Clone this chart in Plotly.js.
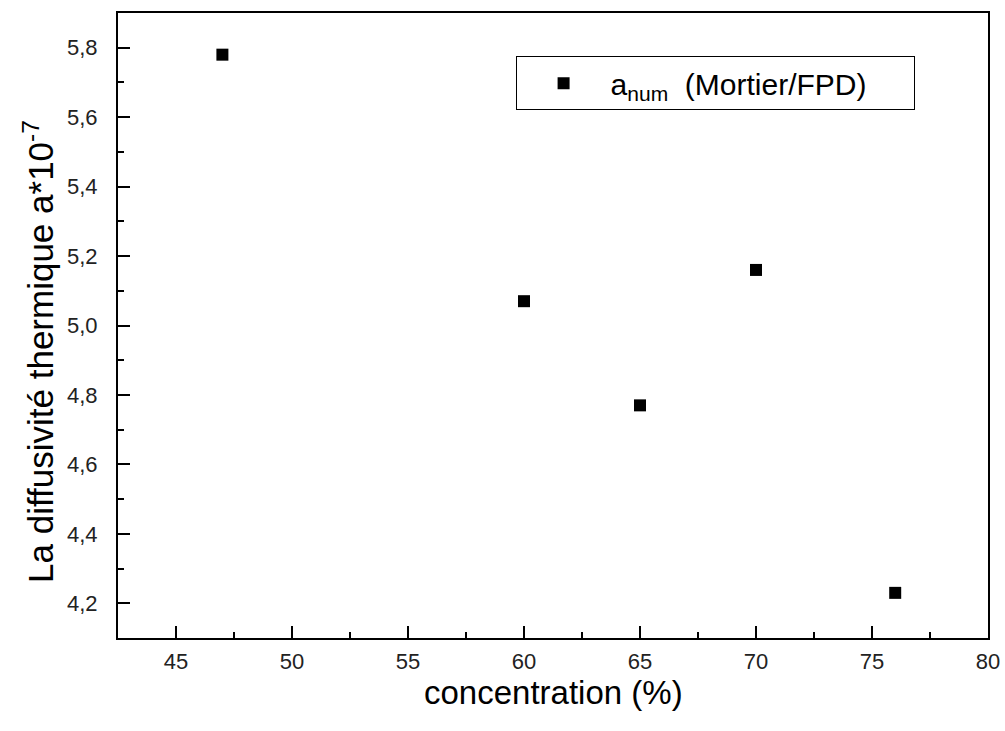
<!DOCTYPE html>
<html>
<head>
<meta charset="utf-8">
<script src="https://cdn.plot.ly/plotly-3.0.1.min.js"></script>
<style>html,body{margin:0;padding:0;background:#fff;}#chart{width:1005px;height:731px;}</style>
</head>
<body>
<div id="chart"></div>
<script>
const concentration = [47, 60, 65, 70, 76];
const diffusivity = [5.78, 5.07, 4.77, 5.16, 4.23];
const seriesName = "a<sub>num</sub>  (Mortier/FPD)";
const xTitle = "concentration (%)";
const yTitle = "La diffusivité thermique a*10<sup>-7</sup>";
const legendPad = "\u00a0\u00a0\u00a0\u00a0\u00a0";

const trace = {
  x: concentration,
  y: diffusivity,
  type: "scatter",
  mode: "markers",
  name: seriesName + legendPad,
  marker: {symbol: "square", size: 12, color: "#000"}
};

const font = "Arial, 'Liberation Sans', sans-serif";
const layout = {
  width: 1005, height: 731,
  margin: {l: 118, r: 17, t: 13, b: 93},
  paper_bgcolor: "#fff", plot_bgcolor: "#fff",
  separators: ", ",
  showlegend: true,
  font: {family: font, color: "#000"},
  xaxis: {
    range: [42.5, 80], tick0: 45, dtick: 5,
    ticks: "inside", ticklen: 12, tickwidth: 2, tickcolor: "#000",
    minor: {ticks: "inside", ticklen: 6, tickwidth: 2, tickcolor: "#000", dtick: 2.5, tick0: 42.5},
    showline: true, linewidth: 2, linecolor: "#000", mirror: true,
    showgrid: false, zeroline: false,
    tickfont: {size: 22, color: "#222"},
    ticklabelstandoff: 3
  },
  yaxis: {
    range: [4.1, 5.9], tick0: 4.2, dtick: 0.2, tickformat: ".1f",
    ticks: "inside", ticklen: 12, tickwidth: 2, tickcolor: "#000",
    minor: {ticks: "inside", ticklen: 6, tickwidth: 2, tickcolor: "#000", dtick: 0.1},
    showline: true, linewidth: 2, linecolor: "#000", mirror: true,
    showgrid: false, zeroline: false,
    tickfont: {size: 22, color: "#222"},
    ticklabelstandoff: 14
  },
  annotations: [
    {text: xTitle, xref: "paper", yref: "paper", x: 0.5, y: -0.0864,
     xanchor: "center", yanchor: "middle", showarrow: false,
     font: {size: 33, color: "#000"}},
    {text: yTitle, xref: "paper", yref: "paper", x: -0.091, y: 0.459,
     xanchor: "center", yanchor: "middle", showarrow: false, textangle: -90,
     font: {size: 35, color: "#000"}}
  ],
  legend: {
    x: 0.457, y: 0.931, xanchor: "left", yanchor: "top",
    bordercolor: "#000", borderwidth: 1, bgcolor: "#fff",
    font: {size: 30, color: "#000"},
    itemwidth: 84
  }
};

Plotly.newPlot("chart", [trace], layout, {displayModeBar: false, staticPlot: true});
</script>
</body>
</html>
